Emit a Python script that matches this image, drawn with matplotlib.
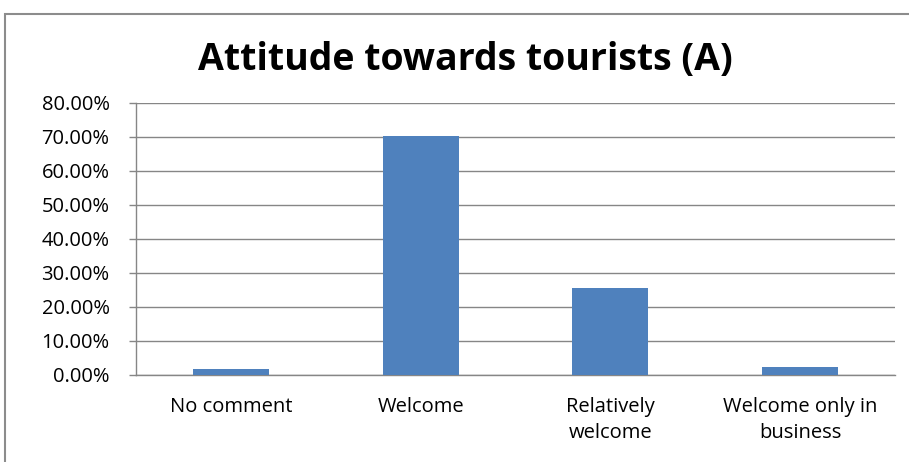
import matplotlib.pyplot as plt
from matplotlib.patches import Rectangle
from matplotlib.ticker import PercentFormatter

categories = ["No comment", "Welcome", "Relatively\nwelcome", "Welcome only in\nbusiness"]
shares = [1.7, 70.4, 25.5, 2.3]
y_ticks = [0, 10, 20, 30, 40, 50, 60, 70, 80]

BAR_COLOR = "#4f81bd"
GRID_COLOR = "#868686"
FONT = ["Open Sans", "DejaVu Sans"]

plt.rcParams["font.family"] = FONT

fig = plt.figure(figsize=(9.09, 4.62), dpi=100)
fig.patch.set_facecolor("white")

# chart frame, running off the right and bottom edges
fig.patches.append(Rectangle((5 / 909, -0.1), 1.2, 1 - 14 / 462 + 0.1,
                             transform=fig.transFigure, fill=False,
                             edgecolor="#8c8c8c", linewidth=1.5))

ax = fig.add_axes([136 / 909, 1 - 375 / 462, (895 - 136) / 909, (375 - 103) / 462])
x = range(len(categories))
ax.bar(x, shares, width=0.4, color=BAR_COLOR, zorder=3)

ax.set_xlim(-0.5, len(categories) - 0.5)
ax.set_ylim(0, 80)
ax.set_yticks(y_ticks)
ax.yaxis.set_major_formatter(PercentFormatter(decimals=2))
ax.set_xticks(list(x))
ax.set_xticklabels(categories, fontsize=14.5, linespacing=1.4)
ax.tick_params(axis="x", length=0, pad=16)
ax.tick_params(axis="y", length=5, width=1, color=GRID_COLOR, labelsize=14.5, pad=14)
ax.grid(axis="y", color=GRID_COLOR, linewidth=1, zorder=0)
ax.set_axisbelow(True)

for side in ("top", "right"):
    ax.spines[side].set_visible(False)
for side in ("left", "bottom"):
    ax.spines[side].set_color(GRID_COLOR)
    ax.spines[side].set_linewidth(1)

fig.text(465 / 909, 1 - 60 / 462, "Attitude towards tourists (A)",
         ha="center", va="center", fontsize=27, fontweight="bold")

fig.savefig("out.png", dpi=100)
